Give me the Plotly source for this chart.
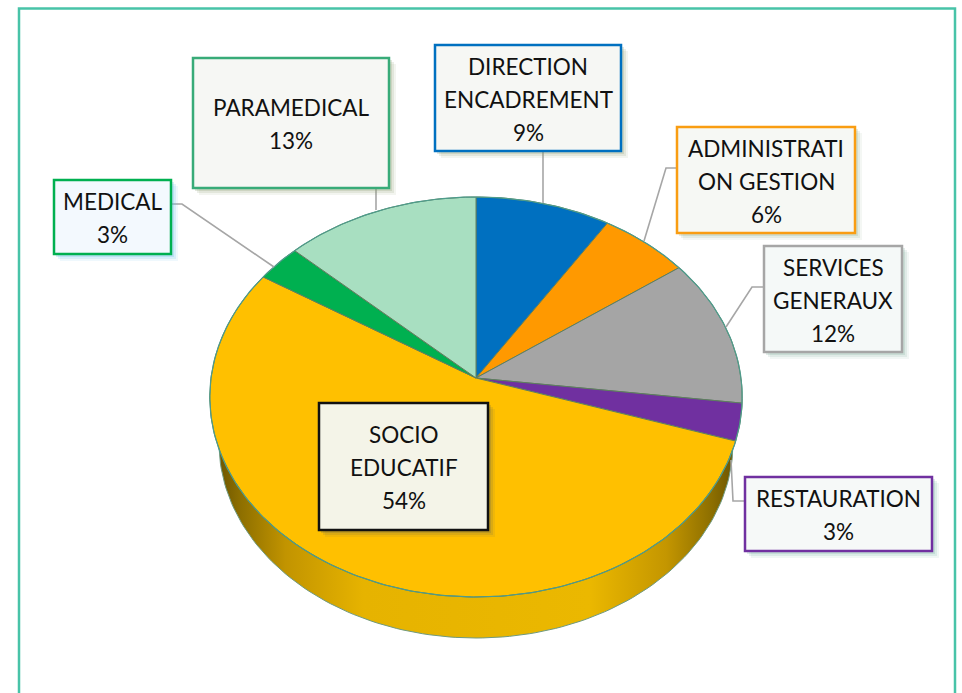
import numpy as np
import plotly.graph_objects as go

# Data, clockwise from 12 o'clock
categories = ["DIRECTION ENCADREMENT", "ADMINISTRATION GESTION", "SERVICES GENERAUX",
              "RESTAURATION", "SOCIO EDUCATIF", "MEDICAL", "PARAMEDICAL"]
values = [9, 6, 12, 3, 54, 3, 13]
slice_colors = ["#0070C0", "#FF9900", "#A5A5A5", "#7030A0", "#FFC000", "#00B050", "#A8DFC1"]
label_lines = [["DIRECTION", "ENCADREMENT"], ["ADMINISTRATI", "ON GESTION"], ["SERVICES", "GENERAUX"],
               ["RESTAURATION"], ["SOCIO", "EDUCATIF"], ["MEDICAL"], ["PARAMEDICAL"]]
border_colors = ["#0070C0", "#F99D12", "#A6A6A6", "#7030A0", "#111111", "#00B050", "#38AB78"]
box_fills = ["#F6F7F4", "#F6F8F4", "#F5F9F8", "#F6F9F8", "#F4F4E8", "#F3F9FE", "#F6F7F4"]
shadow_colors = ["#8A9A70", "#8FB090", "#80B0A0", "#70ADA0", "#6A6A50", "#60B8E8", "#8A9A70"]

# Box edges: left, right, top, bottom
boxes = [(435, 621, 45, 151), (677, 855, 127, 233), (764, 902, 246, 352),
         (745, 932, 477, 551), (319, 488, 403, 530), (54, 171, 180, 254), (193, 389, 58, 188)]
leader_x = [[543, 543], [677, 666, 644], [764, 752, 726], [745, 733, 731], [], [171, 182, 274], [376, 376]]
leader_y = [[151, 203], [168, 168, 241], [287, 287, 327], [501, 501, 460], [], [204, 204, 267], [188, 210]]

# Tilted-disc geometry
CX, CY, A, C, K = 476, 378, 265, 198.2, 0.095


def project(turn):
    t = 2 * np.pi * np.asarray(turn)
    X, Y = np.sin(t), np.cos(t)
    d = 1 + K * Y
    return CX + A * X / d, CY - C * Y / d


fig = go.Figure()

# Side wall of the disc
t = np.linspace(0, 2 * np.pi, 241)
fig.add_trace(go.Scatter(
    x=476 + 257 * np.cos(t), y=443 + 195 * np.sin(t), mode="lines", fill="toself",
    line=dict(color="#6F9A80", width=1), hoverinfo="skip", showlegend=False,
    fillgradient=dict(type="horizontal", colorscale=[
        [0, "#6E5600"], [0.04, "#8C6E00"], [0.13, "#C29400"], [0.28, "#E6B300"],
        [0.72, "#EBB800"], [0.87, "#C49600"], [0.96, "#8C6E00"], [1, "#6E5600"]]),
))

# Slices
total = sum(values)
start = 0.0
for name, v, col in zip(categories, values, slice_colors):
    end = start + v / total
    ts = np.linspace(start, end, max(8, int(v * 3)))
    px, py = project(ts)
    fig.add_trace(go.Scatter(
        x=np.r_[CX, px, CX], y=np.r_[CY, py, CY], mode="lines", fill="toself",
        fillcolor=col, line=dict(color="#5E7F60", width=1), name=name,
        hovertemplate=f"{name}: {v}%<extra></extra>", showlegend=False))
    start = end

# Teal rim on the top face
ta = np.linspace(0, 1, 361)
rx, ry = project(ta)
fig.add_trace(go.Scatter(x=rx, y=ry, mode="lines", line=dict(color="#4E9C8C", width=1.2),
                         hoverinfo="skip", showlegend=False))

# Leader lines
for lx, ly in zip(leader_x, leader_y):
    if lx:
        fig.add_trace(go.Scatter(x=lx, y=ly, mode="lines", line=dict(color="#A6A6A6", width=1.6),
                                 hoverinfo="skip", showlegend=False))

shapes = [dict(type="rect", xref="x", yref="y", x0=19, x1=955, y0=8.5, y1=720,
               line=dict(color="#48C3A8", width=2.5), fillcolor="rgba(0,0,0,0)", layer="below")]
annotations = []
PITCH = 33
for lines, v, box, bc, bf, sc in zip(label_lines, values, boxes, border_colors, box_fills, shadow_colors):
    l, r, tp, b = box
    for off, op in ((7, 0.10), (5, 0.16), (3, 0.24)):
        shapes.append(dict(type="rect", xref="x", yref="y", x0=l + off - 1, x1=r + off, y0=tp + off - 1, y1=b + off,
                           line=dict(width=0), fillcolor=sc, opacity=op, layer="above"))
    shapes.append(dict(type="rect", xref="x", yref="y", x0=l, x1=r, y0=tp, y1=b,
                       line=dict(color=bc, width=2.5), fillcolor=bf, layer="above"))
    rows = lines + [f"{v}%"]
    mid = (tp + b) / 2
    for i, row in enumerate(rows):
        annotations.append(dict(
            x=(l + r) / 2, y=mid + 1 + (i - (len(rows) - 1) / 2) * PITCH, xref="x", yref="y",
            text=row, showarrow=False, xanchor="center", yanchor="middle",
            font=dict(family="Lato, Carlito, sans-serif", size=22.5, color="#111111")))

fig.update_layout(
    width=962, height=693, autosize=False,
    margin=dict(l=0, r=0, t=0, b=0),
    paper_bgcolor="white", plot_bgcolor="white", showlegend=False,
    xaxis=dict(range=[0, 962], visible=False, fixedrange=True),
    yaxis=dict(range=[693, 0], visible=False, fixedrange=True),
    shapes=shapes, annotations=annotations,
)
fig.write_html(
    "out.html", config={"displayModeBar": False},
    post_script="document.body.style.margin='0';document.documentElement.style.overflow='hidden';",
)
